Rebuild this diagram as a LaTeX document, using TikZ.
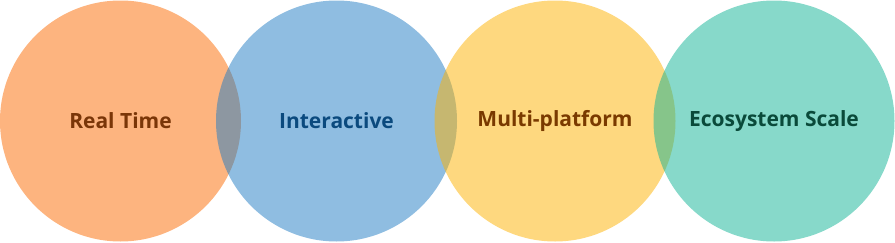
\documentclass[tikz,border=0pt]{standalone}
\usepackage{fontspec}
\setmainfont{Open Sans}
\definecolor{corange}{HTML}{FB6900}
\definecolor{cblue}{HTML}{1F7BC3}
\definecolor{cyellow}{HTML}{FDB100}
\definecolor{cteal}{HTML}{0FB395}
\definecolor{torange}{HTML}{7A3608}
\definecolor{tblue}{HTML}{0B4A7E}
\definecolor{tyellow}{HTML}{7A3A00}
\definecolor{tteal}{HTML}{0A4A3A}
\begin{document}
\begin{tikzpicture}[x=1pt,y=1pt,
  disc/.style={circle,minimum size=241pt,inner sep=0pt,fill opacity=0.5,text opacity=1,draw=none,font=\bfseries\fontsize{21}{25}\selectfont}]
\useasboundingbox (0,0) rectangle (895,242);
\node[disc,fill=corange,text=torange] (rt) at (120.5,121) {Real Time};
\node[disc,fill=cblue,text=tblue] (ia) at (336.5,121) {Interactive};
\node[disc,fill=cyellow,text=tyellow] (mp) at (555,121) {Multi-platform};
\node[disc,fill=cteal,text=tteal] (es) at (774,121) {Ecosystem Scale};
\end{tikzpicture}
\end{document}
